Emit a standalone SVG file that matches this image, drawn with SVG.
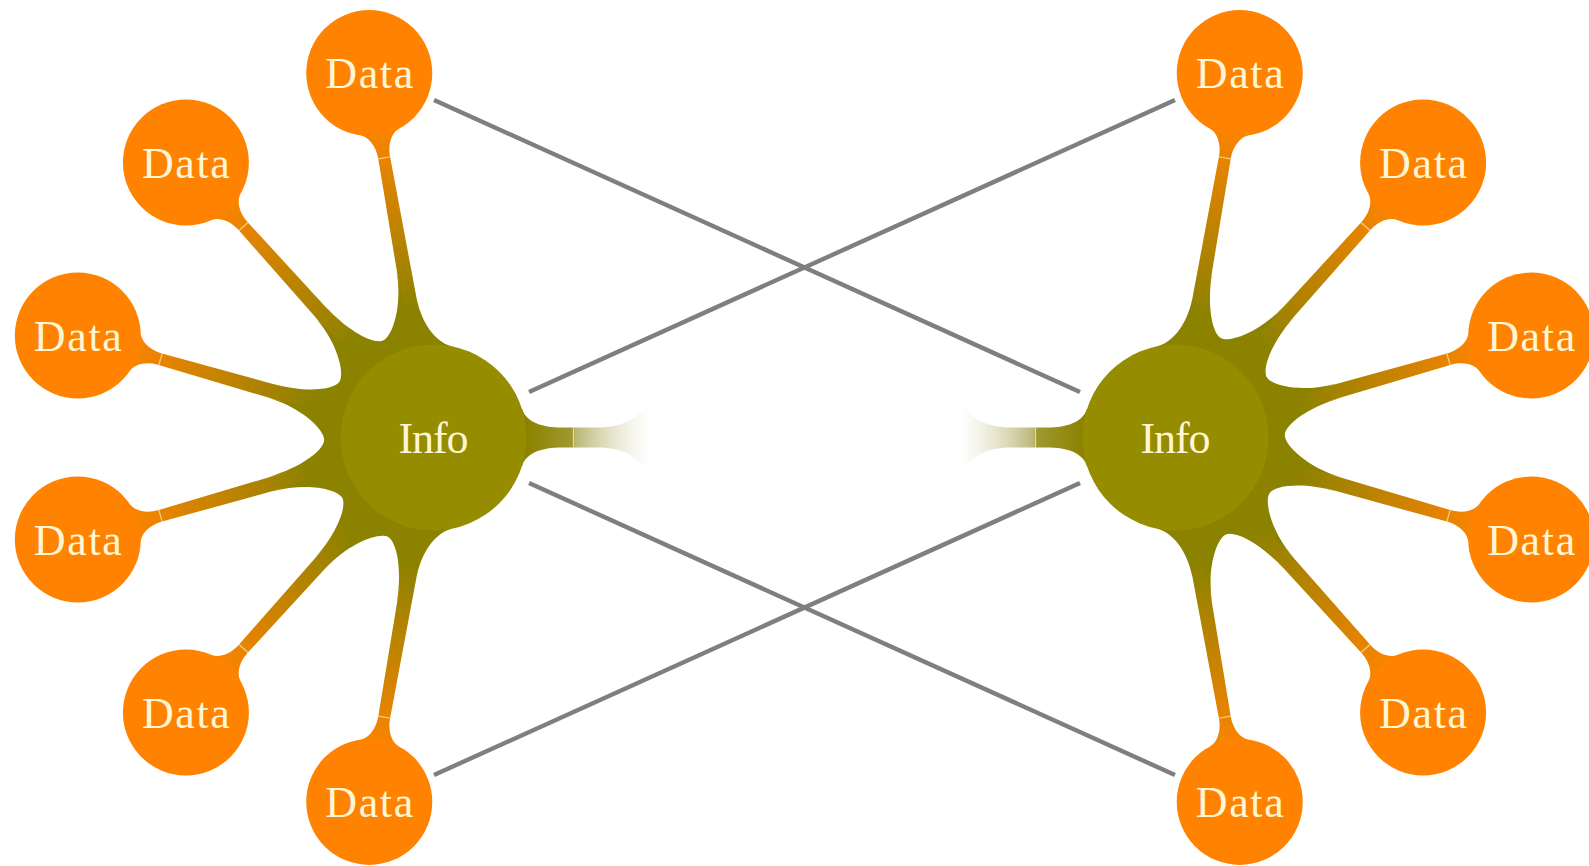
<svg xmlns="http://www.w3.org/2000/svg" width="1589" height="866" viewBox="0 0 1589 866">
<style>
.line{stroke:#7f7f7f;stroke-width:4.4;stroke-linecap:butt;fill:none}
.data{fill:#ff8300}
.info{fill:#958c00}
.lbl{font-family:"Liberation Serif","DejaVu Serif",serif;font-size:44px;fill:#fff6d5;text-anchor:middle}
.tick{stroke:#ffe9b0;stroke-width:1.2;opacity:.75}
</style>
<defs>
<linearGradient id="stemGrad" gradientUnits="userSpaceOnUse" x1="125" y1="0" x2="315" y2="0">
<stop offset="0" stop-color="#8b8200"/>
<stop offset="1" stop-color="#fb8400"/>
</linearGradient>
<linearGradient id="stubGrad" gradientUnits="userSpaceOnUse" x1="93" y1="0" x2="216" y2="0">
<stop offset="0" stop-color="#8b8200" stop-opacity="1"/>
<stop offset="0.37" stop-color="#9a9325" stop-opacity="0.95"/>
<stop offset="0.40" stop-color="#aeaa60" stop-opacity="0.85"/>
<stop offset="1" stop-color="#d8d6b0" stop-opacity="0"/>
</linearGradient>
<g id="stem">
<path fill="url(#stemGrad)" d="M86.2,-34.8 C91.8,-20.9 110,-8.5 140,-7.5 L285,-6 C297,-6 307.6,-11.9 310.1,-19.5 L310.1,19.5 C307.6,11.9 297,6 285,6 L140,7.5 C110,8.5 91.8,20.9 86.2,34.8 Z"/>
<line class="tick" x1="284" y1="-6" x2="284" y2="6"/>
</g>
<path id="web" fill="url(#stemGrad)" d="M0,0 L170,7.5 C135,7.5 108.5,18.3 105.7,27.9 C103,37.5 118.45,65.18 148.13,83.72 Z"/>
<g id="stub">
<path fill="url(#stubGrad)" d="M88.5,-28.7 C91.5,-18 104,-10.5 125,-10 L165,-10 C190,-10 205,-20 216,-36 L216,36 C205,20 190,10 165,10 L125,10 C104,10.5 91.5,18 88.5,28.7 Z"/>
<line class="tick" x1="140" y1="-10" x2="140" y2="10"/>
</g>
</defs>

<g id="connectors">
<line class="line" x1="434" y1="100" x2="1080" y2="392"/>
<line class="line" x1="529" y1="392" x2="1175" y2="100"/>
<line class="line" x1="529" y1="483" x2="1175" y2="775"/>
<line class="line" x1="434" y1="775" x2="1080" y2="483"/>
<g transform="translate(433.5,437.5)">
<use href="#stem" transform="rotate(-100)"/>
<use href="#stem" transform="rotate(-132)"/>
<use href="#stem" transform="rotate(-164)"/>
<use href="#stem" transform="rotate(164)"/>
<use href="#stem" transform="rotate(132)"/>
<use href="#stem" transform="rotate(100)"/>
<use href="#web" transform="rotate(-132)"/>
<use href="#web" transform="rotate(-164)"/>
<use href="#web" transform="rotate(164)"/>
<use href="#web" transform="rotate(132)"/>
<use href="#web" transform="rotate(100)"/>
<use href="#stub"/>
</g>
<g transform="translate(1175.5,437.5)">
<use href="#stem" transform="rotate(-80)"/>
<use href="#stem" transform="rotate(-48)"/>
<use href="#stem" transform="rotate(-16)"/>
<use href="#stem" transform="rotate(16)"/>
<use href="#stem" transform="rotate(48)"/>
<use href="#stem" transform="rotate(80)"/>
<use href="#web" transform="rotate(-80)"/>
<use href="#web" transform="rotate(-48)"/>
<use href="#web" transform="rotate(-16)"/>
<use href="#web" transform="rotate(16)"/>
<use href="#web" transform="rotate(48)"/>
<use href="#stub" transform="rotate(180)"/>
</g>
</g>

<g id="info-left"><circle class="info" cx="433.5" cy="437.5" r="93"/><text class="lbl" x="433.5" y="452.5" textLength="70" lengthAdjust="spacing">Info</text></g>
<g id="info-right"><circle class="info" cx="1175.5" cy="437.5" r="93"/><text class="lbl" x="1175.5" y="452.5" textLength="70" lengthAdjust="spacing">Info</text></g>

<g id="data-l1"><circle class="data" cx="369.25" cy="73.1" r="63"/><text class="lbl" x="369.25" y="88.1" textLength="88" lengthAdjust="spacing">Data</text></g>
<g id="data-l2"><circle class="data" cx="185.9" cy="162.5" r="63"/><text class="lbl" x="185.9" y="177.5" textLength="88" lengthAdjust="spacing">Data</text></g>
<g id="data-l3"><circle class="data" cx="77.8" cy="335.5" r="63"/><text class="lbl" x="77.8" y="350.5" textLength="88" lengthAdjust="spacing">Data</text></g>
<g id="data-l4"><circle class="data" cx="77.8" cy="539.5" r="63"/><text class="lbl" x="77.8" y="554.5" textLength="88" lengthAdjust="spacing">Data</text></g>
<g id="data-l5"><circle class="data" cx="185.9" cy="712.5" r="63"/><text class="lbl" x="185.9" y="727.5" textLength="88" lengthAdjust="spacing">Data</text></g>
<g id="data-l6"><circle class="data" cx="369.25" cy="801.9" r="63"/><text class="lbl" x="369.25" y="816.9" textLength="88" lengthAdjust="spacing">Data</text></g>

<g id="data-r1"><circle class="data" cx="1239.75" cy="73.1" r="63"/><text class="lbl" x="1239.75" y="88.1" textLength="88" lengthAdjust="spacing">Data</text></g>
<g id="data-r2"><circle class="data" cx="1423.1" cy="162.5" r="63"/><text class="lbl" x="1423.1" y="177.5" textLength="88" lengthAdjust="spacing">Data</text></g>
<g id="data-r3"><circle class="data" cx="1531.2" cy="335.5" r="63"/><text class="lbl" x="1531.2" y="350.5" textLength="88" lengthAdjust="spacing">Data</text></g>
<g id="data-r4"><circle class="data" cx="1531.2" cy="539.5" r="63"/><text class="lbl" x="1531.2" y="554.5" textLength="88" lengthAdjust="spacing">Data</text></g>
<g id="data-r5"><circle class="data" cx="1423.1" cy="712.5" r="63"/><text class="lbl" x="1423.1" y="727.5" textLength="88" lengthAdjust="spacing">Data</text></g>
<g id="data-r6"><circle class="data" cx="1239.75" cy="801.9" r="63"/><text class="lbl" x="1239.75" y="816.9" textLength="88" lengthAdjust="spacing">Data</text></g>
</svg>
